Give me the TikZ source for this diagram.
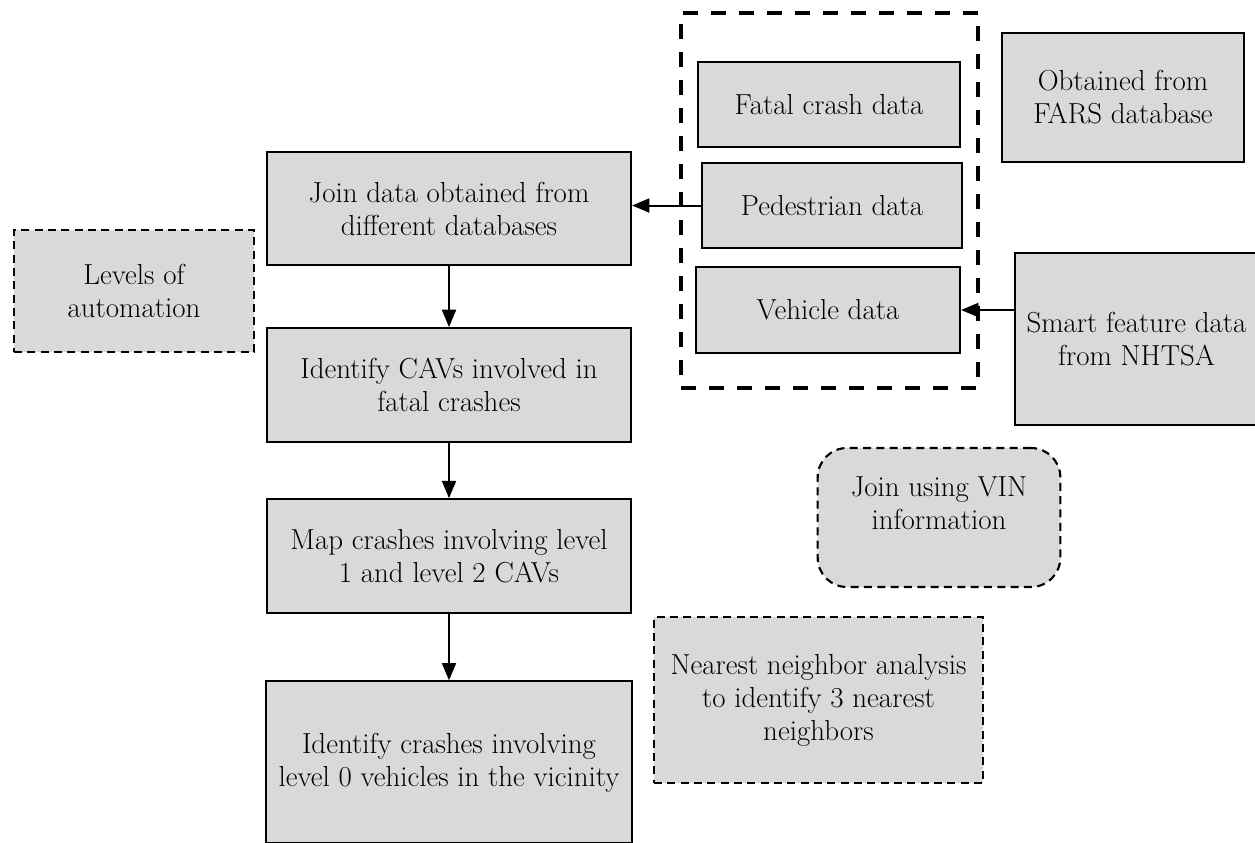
\documentclass[tikz,border=0pt]{standalone}
\usepackage{tikz}
\usetikzlibrary{positioning,arrows.meta}
\definecolor{boxgray}{HTML}{D9D9D9}

\begin{document}
\begin{tikzpicture}[x=0.75pt,y=-0.75pt,
	font=\fontsize{21.7}{24.75}\selectfont,
	box/.style = {draw, line width=1.6pt, fill=boxgray, align=center},
	thinbox/.style = {draw, line width=1.1pt, fill=boxgray, align=center},
	dashbox/.style = {draw, line width=1.6pt, dash pattern=on 6pt off 4pt, fill=boxgray, align=center},
	group/.style = {draw, line width=3pt, dash pattern=on 11pt off 10pt},
	flow/.style = {line width=1.5pt, -{Triangle[length=13pt,width=10.5pt]}}]
	\useasboundingbox (0,0) rectangle (1255,842);
	\clip (0,0) rectangle (1255,842);
	\node[group, minimum width=222.75pt, minimum height=281.25pt] (grp) at (829.5,200.5) {};
	\node[box, minimum width=196.5pt, minimum height=63.75pt] (fatal) at (829,104.5) {Fatal crash data};
	\node[box, minimum width=195pt, minimum height=63.75pt] (ped) at (832,205.5) {Pedestrian data};
	\node[box, minimum width=198pt, minimum height=64.5pt] (veh) at (828,310) {Vehicle data};
	\node[thinbox, minimum width=181.5pt, minimum height=96.75pt] (fars) at (1123,97.5) {Obtained from\\FARS database};
	\node[box, minimum width=182.25pt, minimum height=129pt] (smart) at (1136.5,339) {Smart feature data\\from NHTSA};
	\node[box, minimum width=273pt, minimum height=84.75pt] (join) at (449,208.5) {Join data obtained from\\different databases};
	\node[box, minimum width=273pt, minimum height=85.5pt] (cav) [below=45.75pt of join] {Identify CAVs involved in\\fatal crashes};
	\node[box, minimum width=273pt, minimum height=85.5pt] (map) [below=41.25pt of cav] {Map crashes involving level\\1 and level 2 CAVs};
	\node[box, minimum width=274.5pt, minimum height=121.5pt] (ident) [below=49.5pt of map] {Identify crashes involving\\level 0 vehicles in the vicinity};
	\node[dashbox, minimum width=180pt, minimum height=91.5pt] (levels) at (134,291) {Levels of\\automation};
	\node[dashbox, rounded corners=22pt, minimum width=182pt, minimum height=104.25pt, text depth=21pt] (vin) at (939,517.5) {Join using VIN\\information};
	\node[dashbox, minimum width=246.75pt, minimum height=124.5pt] (near) at (818.5,700) {Nearest neighbor analysis\\to identify 3 nearest\\neighbors};
	\draw[flow] (ped.west) -- (ped.west -| join.east);
	\draw[flow] (smart.west |- veh.east) -- (veh.east);
	\draw[flow] (join) -- (cav);
	\draw[flow] (cav) -- (map);
	\draw[flow] (map) -- (ident);
\end{tikzpicture}
\end{document}
